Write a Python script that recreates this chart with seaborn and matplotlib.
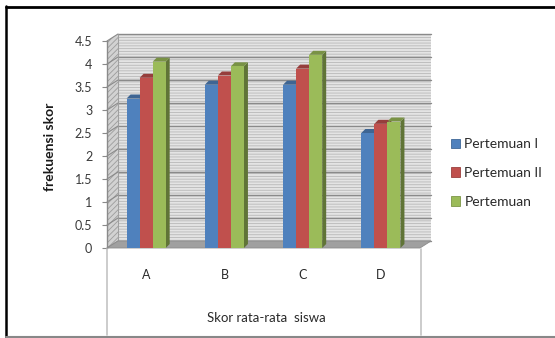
import matplotlib
matplotlib.use("Agg")
import numpy as np
import pandas as pd
import seaborn as sns
import matplotlib.pyplot as plt
import matplotlib.colors as mcolors
from matplotlib.patches import Polygon, Rectangle, Patch
from matplotlib.lines import Line2D
from matplotlib.transforms import offset_copy, IdentityTransform

# ---- data -------------------------------------------------------------
categories = ["A", "B", "C", "D"]
pertemuan_1 = [3.25, 3.55, 3.55, 2.50]
pertemuan_2 = [3.70, 3.75, 3.90, 2.70]
pertemuan_3 = [4.05, 3.95, 4.20, 2.75]
series_names = ["Pertemuan I", "Pertemuan II", "Pertemuan"]
y_ticks = [0, 0.5, 1, 1.5, 2, 2.5, 3, 3.5, 4, 4.5]
y_tick_labels = ["0", "0.5", "1", "1.5", "2", "2.5", "3", "3.5", "4", "4.5"]
series_colors = ["#4F81BD", "#C0504D", "#9BBB59"]

df = pd.DataFrame({
    "Skor": categories * 3,
    "Nilai": pertemuan_1 + pertemuan_2 + pertemuan_3,
    "Seri": [series_names[0]] * 4 + [series_names[1]] * 4 + [series_names[2]] * 4,
})

# ---- style ------------------------------------------------------------
sns.set_style("white")
plt.rcParams["font.family"] = ["Lato", "DejaVu Sans"]
plt.rcParams["hatch.linewidth"] = 0.6

W, H = 555, 338
fig = plt.figure(figsize=(W / 100, H / 100), dpi=100)
ax = fig.add_axes([107 / W, (H - 248) / H, 313 / W, (248 - 41) / H])

sns.barplot(data=df, x="Skor", y="Nilai", hue="Seri", palette=series_colors,
            hue_order=series_names, order=categories, width=0.5, saturation=1,
            linewidth=0, legend=False, ax=ax, zorder=5)
bars = list(ax.patches)

ax.set_xlim(-0.5, 3.5)
ax.set_ylim(0, 4.5)
ax.patch.set_visible(False)
fig.canvas.draw()

DX, DY = 11, 7          # depth of the back wall (pixels)
BX, BY = 4, 4           # depth of each column (pixels)
back = offset_copy(ax.transData, fig=fig, x=DX, y=DY, units="dots")
ident = IdentityTransform()


def front(x, y):
    return np.array(ax.transData.transform((x, y)))


# back wall with fine stripes and gridlines
ax.add_patch(Rectangle((-0.5, 0), 4, 4.5, transform=back, facecolor="#e4e4e4",
                       edgecolor="#b8b8b8", hatch="------", lw=0,
                       clip_on=False, zorder=0))
for v in y_ticks:
    ax.plot([-0.5, 3.5], [v, v], transform=back, color="#8a8a8a", lw=1,
            clip_on=False, zorder=1)
ax.plot([-0.5, -0.5], [0, 4.5], transform=back, color="#a0a0a0", lw=0.8,
        clip_on=False, zorder=1)

# left side wall
off = np.array([DX, DY])
lw_pts = [front(-0.5, 0), front(-0.5, 4.5), front(-0.5, 4.5) + off, front(-0.5, 0) + off]
ax.add_patch(Polygon(lw_pts, closed=True, transform=ident, facecolor="#d2d2d2",
                     edgecolor="#9c9c9c", hatch="//////", lw=0, clip_on=False, zorder=1))
for v in y_ticks:
    a, b = front(-0.5, v), front(-0.5, v) + off
    ax.add_line(Line2D([a[0], b[0]], [a[1], b[1]], transform=ident,
                       color="#8a8a8a", lw=0.8, clip_on=False, zorder=1))

# floor
fl_pts = [front(-0.5, 0), front(3.5, 0), front(3.5, 0) + off, front(-0.5, 0) + off]
ax.add_patch(Polygon(fl_pts, closed=True, transform=ident, facecolor="#a0a0a0",
                     edgecolor="#8c8c8c", lw=0.6, clip_on=False, zorder=2))

# column sides and tops
boff = np.array([BX, BY])
for p in bars:
    x0, w, h = p.get_x(), p.get_width(), p.get_height()
    base = np.array(mcolors.to_rgb(p.get_facecolor()))
    side_c = base * 0.62
    top_c = base * 0.78
    side = [front(x0 + w, 0), front(x0 + w, h), front(x0 + w, h) + boff, front(x0 + w, 0) + boff]
    top = [front(x0, h), front(x0 + w, h), front(x0 + w, h) + boff, front(x0, h) + boff]
    ax.add_patch(Polygon(side, closed=True, transform=ident, facecolor=side_c,
                         lw=0, clip_on=False, zorder=4))
    ax.add_patch(Polygon(top, closed=True, transform=ident, facecolor=top_c,
                         lw=0, clip_on=False, zorder=4))

# axes, ticks, labels
for s in ["top", "right", "bottom"]:
    ax.spines[s].set_visible(False)
ax.spines["left"].set_color("#8a8a8a")
ax.spines["left"].set_linewidth(1)
ax.set_yticks(y_ticks)
ax.set_yticklabels(y_tick_labels)
ax.tick_params(axis="y", direction="out", length=3.6, width=0.8, color="#8a8a8a",
               pad=7, labelsize=9, labelcolor="#3a3a3a", left=True)
ax.tick_params(axis="x", length=0, pad=15, labelsize=9, labelcolor="#2a2a2a")
ax.grid(False)

ax.set_ylabel("frekuensi skor", fontsize=10, fontweight="bold", color="#1a1a1a")
ax.yaxis.set_label_coords(-0.163, 0.49)
ax.set_xlabel("Skor rata-rata  siswa", fontsize=9.5, color="#2a2a2a")
ax.xaxis.label.set_va("center")
ax.xaxis.set_label_coords(0.51, (248 - 318) / 207)

# legend
handles = [Patch(facecolor=c, edgecolor=tuple(np.array(mcolors.to_rgb(c)) * 0.8),
                 lw=0.6, label=n) for c, n in zip(series_colors, series_names)]
fig.legend(handles=handles, loc="center left", bbox_to_anchor=(438 / W, 1 - 173 / H),
           frameon=False, handlelength=0.7, handleheight=0.7, handletextpad=0.3,
           labelspacing=1.2, fontsize=10, labelcolor="#2a2a2a")

# category box and outer frame
for xp in (107, 421):
    fig.add_artist(Line2D([xp / W, xp / W], [1 - 249 / H, 1 - 335 / H],
                          color="#c4c4c4", lw=1.2))
fig.add_artist(Line2D([6 / W, 6 / W], [1 - 6 / H, 1 - 337 / H], color="black", lw=1.8))
fig.add_artist(Line2D([6 / W, 1], [1 - 6.5 / H, 1 - 6.5 / H], color="black", lw=2))
fig.add_artist(Line2D([6 / W, 1], [1 - 337 / H, 1 - 337 / H], color="#888888", lw=1.5))

fig.savefig("out.png", dpi=100)
